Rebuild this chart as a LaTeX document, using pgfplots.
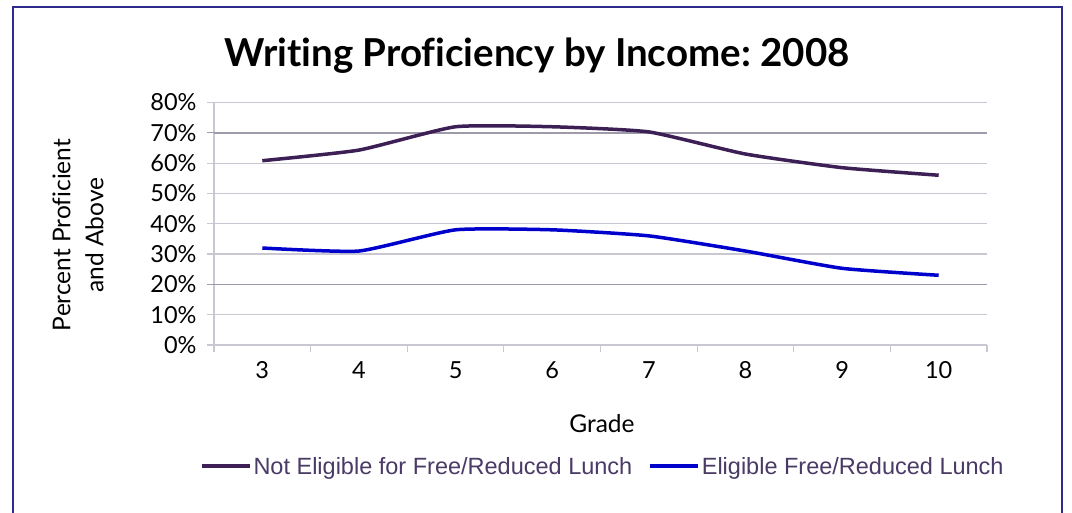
\documentclass[border=0pt]{standalone}
\usepackage{fontspec}
\setmainfont{Lato}[Ligatures=NoCommon]
\newfontfamily\legfont{Liberation Sans}
\usepackage{pgfplots}
\pgfplotsset{compat=1.18}
\definecolor{frame}{HTML}{2E2B8C}
\definecolor{serA}{HTML}{3B1F55}
\definecolor{serB}{HTML}{0000CC}
\definecolor{gridc}{HTML}{C9C8D2}
\definecolor{griddark}{HTML}{9E9AAA}
\definecolor{legtext}{HTML}{4A3A66}
\begin{document}
\begin{tikzpicture}[x=1pt,y=1pt]
\useasboundingbox (0,0) rectangle (1072,513);
\fill[white] (0,0) rectangle (1072,513);
\draw[frame, line width=2.5pt] (13,-5) -- (13,506) -- (1062,506) -- (1062,-5);
\node[font=\bfseries\fontsize{38.5}{42}\selectfont, anchor=base] at (537,446) {Writing Proficiency by Income:\hspace{-3pt} 2008};
\node[font=\fontsize{24.5}{33}\selectfont, rotate=90, align=center] at (78,278) {Percent Proficient\\and Above};
\node[font=\fontsize{24.5}{28}\selectfont, anchor=base] at (602,80) {Grade};
\begin{axis}[
  at={(214pt,168pt)}, anchor=south west,
  scale only axis, width=773pt, height=242.5pt,
  xmin=2.5, xmax=10.5, ymin=0, ymax=80,
  xtick={3,...,10}, xticklabels={3,4,5,6,7,8,9,10},
  minor xtick={2.5,3.5,...,10.5},
  ytick={0,10,...,80},
  yticklabel={\pgfmathprintnumber{\tick}\%},
  /pgf/number format/assume math mode=true,
  ticklabel style={font=\fontsize{23.5}{25}\selectfont},
  yticklabel style={xshift=-7pt},
  xticklabel style={yshift=-6pt},
  tick align=outside,
  major tick length=7pt, minor tick length=7pt,
  x tick style={draw=none},
  minor x tick style={draw=gridc, line width=1.2pt},
  y tick style={draw=gridc, line width=1.2pt},
  axis x line*=bottom, axis y line*=left,
  axis line style={draw=gridc, line width=1.2pt, -},
  ymajorgrids, grid style={draw=gridc, line width=1.2pt},
  extra y ticks={20,70}, extra y tick labels={},
  extra y tick style={major grid style={draw=griddark, line width=1.4pt}, y tick style={draw=griddark}},
  legend columns=2,
  legend style={at={(0.503,-0.5)}, anchor=center, draw=none, fill=none,
    font=\legfont\fontsize{23.5}{26}\selectfont\color{legtext},
    /tikz/every even column/.append style={column sep=14pt}},
  legend image code/.code={\draw[#1] (0pt,0pt) -- (48pt,0pt);},
  clip=false,
]
\addplot[serA, line width=3.5pt, smooth, tension=0.3] coordinates {
  (3,60.8) (4,64.3) (5,72) (6,72) (7,70.3) (8,63) (9,58.5) (10,56)};
\addlegendentry{Not Eligible for Free/Reduced Lunch}
\addplot[serB, line width=3.5pt, smooth, tension=0.3] coordinates {
  (3,32) (4,31) (5,38) (6,38) (7,36) (8,31) (9,25.3) (10,23)};
\addlegendentry{Eligible Free/Reduced Lunch}
\end{axis}
\end{tikzpicture}
\end{document}
